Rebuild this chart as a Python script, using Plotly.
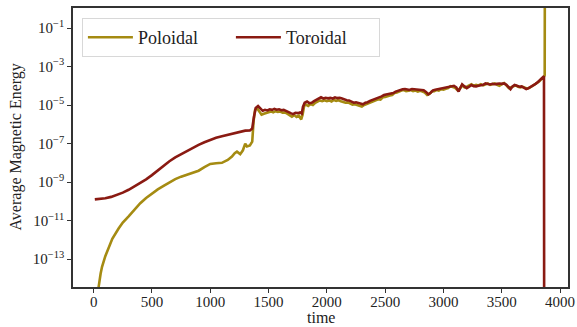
import plotly.graph_objects as go

# ---- Toroidal magnetic energy (log10 of average energy) ----
toroidal_time = [
    10, 50, 100, 150, 200, 250, 300, 350, 400, 450, 500, 550, 600, 650, 700,
    750, 800, 850, 900, 950, 1000, 1050, 1100, 1150, 1200, 1250, 1300, 1340,
    1360, 1375, 1390, 1410, 1430, 1450, 1470, 1490, 1510, 1530, 1550, 1570,
    1590, 1610, 1630, 1650, 1670, 1690, 1710, 1730, 1750, 1770, 1785, 1795,
    1810, 1830, 1850, 1870, 1890, 1910, 1930, 1950, 1970, 1990, 2010, 2030,
    2050, 2070, 2090, 2110, 2130, 2150, 2170, 2190, 2210, 2230, 2250, 2270,
    2290, 2310, 2330, 2350, 2370, 2390, 2410, 2430, 2450, 2470, 2490, 2510,
    2530, 2550, 2570, 2590, 2610, 2630, 2650, 2670, 2690, 2710, 2730, 2750,
    2770, 2790, 2810, 2830, 2850, 2870, 2890, 2910, 2930, 2950, 2970, 2990,
    3010, 3030, 3050, 3070, 3090, 3110, 3130, 3145, 3160, 3180, 3200, 3220,
    3240, 3260, 3280, 3300, 3320, 3340, 3360, 3380, 3400, 3420, 3440, 3460,
    3480, 3500, 3520, 3540, 3560, 3575, 3590, 3610, 3630, 3650, 3670, 3690,
    3710, 3730, 3750, 3770, 3790, 3810, 3830, 3850, 3862, 3864,
]
toroidal_log10 = [
    -9.90, -9.88, -9.84, -9.77, -9.67, -9.55, -9.40, -9.23, -9.06, -8.86,
    -8.64, -8.40, -8.15, -7.92, -7.72, -7.55, -7.38, -7.22, -7.07, -6.93,
    -6.80, -6.70, -6.62, -6.54, -6.47, -6.40, -6.33, -6.32, -6.22, -5.60,
    -5.15, -5.05, -5.20, -5.30, -5.25, -5.28, -5.22, -5.25, -5.20, -5.24,
    -5.22, -5.27, -5.25, -5.32, -5.35, -5.42, -5.47, -5.40, -5.42, -5.38,
    -5.44, -5.10, -4.88, -4.82, -4.90, -4.88, -4.80, -4.72, -4.65, -4.60,
    -4.66, -4.62, -4.65, -4.63, -4.66, -4.60, -4.64, -4.62, -4.66, -4.72,
    -4.75, -4.76, -4.82, -4.88, -4.86, -4.90, -4.94, -4.96, -4.88, -4.85,
    -4.78, -4.74, -4.70, -4.65, -4.62, -4.55, -4.48, -4.46, -4.42, -4.40,
    -4.38, -4.30, -4.25, -4.20, -4.18, -4.17, -4.20, -4.22, -4.17, -4.18,
    -4.19, -4.20, -4.21, -4.23, -4.32, -4.44, -4.36, -4.24, -4.20, -4.18,
    -4.15, -4.13, -4.12, -4.10, -4.05, -4.02, -4.00, -4.08, -4.30, -4.10,
    -3.92, -4.03, -4.12, -4.05, -3.96, -4.02, -4.03, -4.00, -3.98, -3.95,
    -3.88, -3.90, -3.93, -3.90, -3.92, -3.90, -3.88, -3.90, -3.88, -3.95,
    -4.10, -4.18, -4.05, -3.96, -4.00, -4.05, -4.03, -4.08, -4.17, -4.12,
    -4.05, -4.00, -3.90, -3.80, -3.70, -3.55, -3.50, -20.0,
]

# ---- Poloidal magnetic energy (log10 of average energy) ----
poloidal_time = [
    30, 43, 60, 72, 100, 129, 160, 214, 250, 300, 357, 400, 450, 500, 550,
    600, 643, 700, 750, 786, 850, 900, 950, 1000, 1050, 1100, 1150, 1186,
    1210, 1229, 1257, 1280, 1300, 1315, 1340, 1360, 1372, 1385, 1400, 1420,
    1440, 1460, 1480, 1500, 1520, 1540, 1560, 1580, 1600, 1620, 1640, 1660,
    1680, 1700, 1720, 1740, 1760, 1780, 1792, 1805, 1820, 1840, 1860, 1880,
    1900, 1920, 1940, 1960, 1980, 2000, 2020, 2040, 2060, 2080, 2100, 2120,
    2140, 2160, 2180, 2200, 2220, 2240, 2260, 2280, 2300, 2320, 2340, 2360,
    2380, 2400, 2420, 2440, 2460, 2480, 2500, 2520, 2540, 2560, 2580, 2600,
    2620, 2640, 2660, 2680, 2700, 2720, 2740, 2760, 2780, 2800, 2820, 2840,
    2860, 2880, 2900, 2920, 2940, 2960, 2980, 3000, 3020, 3040, 3060, 3080,
    3100, 3120, 3140, 3160, 3180, 3200, 3220, 3240, 3260, 3280, 3300, 3320,
    3340, 3360, 3380, 3400, 3420, 3440, 3460, 3480, 3500, 3520, 3540, 3560,
    3580, 3600, 3620, 3640, 3660, 3680, 3700, 3720, 3740, 3760, 3780, 3800,
    3820, 3840, 3860, 3868, 3870,
]
poloidal_log10 = [
    -16.0, -14.44, -13.75, -13.40, -12.85, -12.36, -11.95, -11.41, -11.10,
    -10.78, -10.37, -10.10, -9.83, -9.59, -9.38, -9.20, -9.03, -8.85, -8.72,
    -8.64, -8.52, -8.41, -8.22, -8.06, -8.02, -8.00, -7.85, -7.68, -7.50,
    -7.42, -7.55, -7.35, -7.00, -7.15, -7.10, -6.90, -5.80, -5.25, -5.15,
    -5.35, -5.50, -5.45, -5.40, -5.38, -5.33, -5.38, -5.32, -5.36, -5.34,
    -5.40, -5.38, -5.45, -5.55, -5.60, -5.52, -5.62, -5.55, -5.75, -5.50,
    -5.05, -4.98, -5.05, -4.95, -5.00, -4.88, -4.82, -4.76, -4.80, -4.75,
    -4.80, -4.76, -4.82, -4.74, -4.78, -4.75, -4.80, -4.85, -4.88, -4.86,
    -4.92, -4.98, -4.96, -5.00, -5.05, -5.08, -5.00, -4.95, -4.92, -4.85,
    -4.82, -4.78, -4.70, -4.72, -4.60, -4.58, -4.52, -4.50, -4.48, -4.38,
    -4.35, -4.28, -4.25, -4.22, -4.28, -4.26, -4.22, -4.28, -4.25, -4.30,
    -4.26, -4.30, -4.35, -4.48, -4.42, -4.30, -4.28, -4.22, -4.25, -4.18,
    -4.20, -4.15, -4.12, -4.02, -4.05, -4.10, -4.22, -4.15, -3.98, -4.08,
    -4.05, -4.00, -3.92, -4.00, -3.95, -3.98, -3.92, -3.98, -3.93, -3.88,
    -3.95, -3.92, -3.88, -3.95, -4.00, -3.92, -3.86, -3.98, -4.12, -4.08,
    -4.02, -3.98, -4.05, -4.08, -4.05, -4.12, -4.15, -4.10, -4.02, -3.95,
    -3.85, -3.78, -3.65, -3.55, -3.45, 3.0,
]

# ---- Axis ticks ----
x_ticks = [0, 500, 1000, 1500, 2000, 2500, 3000, 3500, 4000]
y_tick_exponents = [-1, -3, -5, -7, -9, -11, -13]

POLOIDAL_COLOR = "#A58B12"
TOROIDAL_COLOR = "#8A1A12"
FONT = "Liberation Serif"
TEXT_COLOR = "#222222"

fig = go.Figure()
fig.add_trace(go.Scatter(
    x=poloidal_time, y=[10 ** v for v in poloidal_log10],
    mode="lines", name="Poloidal",
    line=dict(color=POLOIDAL_COLOR, width=2.6),
))
fig.add_trace(go.Scatter(
    x=toroidal_time, y=[10 ** v for v in toroidal_log10],
    mode="lines", name="Toroidal",
    line=dict(color=TOROIDAL_COLOR, width=2.6),
))

axis_common = dict(
    showline=True, linecolor="#333333", linewidth=1.6, mirror=True,
    ticks="outside", ticklen=4, tickwidth=1, tickcolor="#333333",
    showgrid=False, zeroline=False, automargin=False,
    tickfont=dict(family=FONT, size=15, color=TEXT_COLOR),
)

fig.update_layout(
    width=577, height=327,
    margin=dict(l=73, r=9, t=8, b=40),
    paper_bgcolor="white", plot_bgcolor="white",
    font=dict(family=FONT, color=TEXT_COLOR),
    showlegend=True,
    legend=dict(
        orientation="h", x=0.018, y=0.964, xanchor="left", yanchor="top",
        bgcolor="rgba(255,255,255,0.85)", bordercolor="#d8d8d8", borderwidth=1,
        font=dict(family=FONT, size=18, color=TEXT_COLOR),
        itemwidth=45, entrywidth=88, entrywidthmode="pixels",
    ),
    xaxis=dict(
        range=[-177, 4068], tickvals=x_ticks,
        ticktext=[str(t) for t in x_ticks],
        ticklabelstandoff=-4,
        **axis_common,
    ),
    yaxis=dict(
        type="log", range=[-14.45, 0.04],
        tickvals=[10.0 ** e for e in y_tick_exponents],
        ticktext=[f"10<sup>\u2212{abs(e)}</sup>" for e in y_tick_exponents],
        **axis_common,
    ),
    annotations=[
        dict(text="time", xref="paper", yref="paper", x=0.5, y=0,
             yshift=-30, yanchor="middle", xanchor="center", showarrow=False,
             font=dict(family=FONT, size=16, color=TEXT_COLOR)),
        dict(text="Average Magnetic Energy", xref="paper", yref="paper",
             x=0, xshift=-58, y=0.5, textangle=-90, xanchor="center",
             yanchor="middle", showarrow=False,
             font=dict(family=FONT, size=16, color=TEXT_COLOR)),
    ],
)

fig.write_html("out.html")
